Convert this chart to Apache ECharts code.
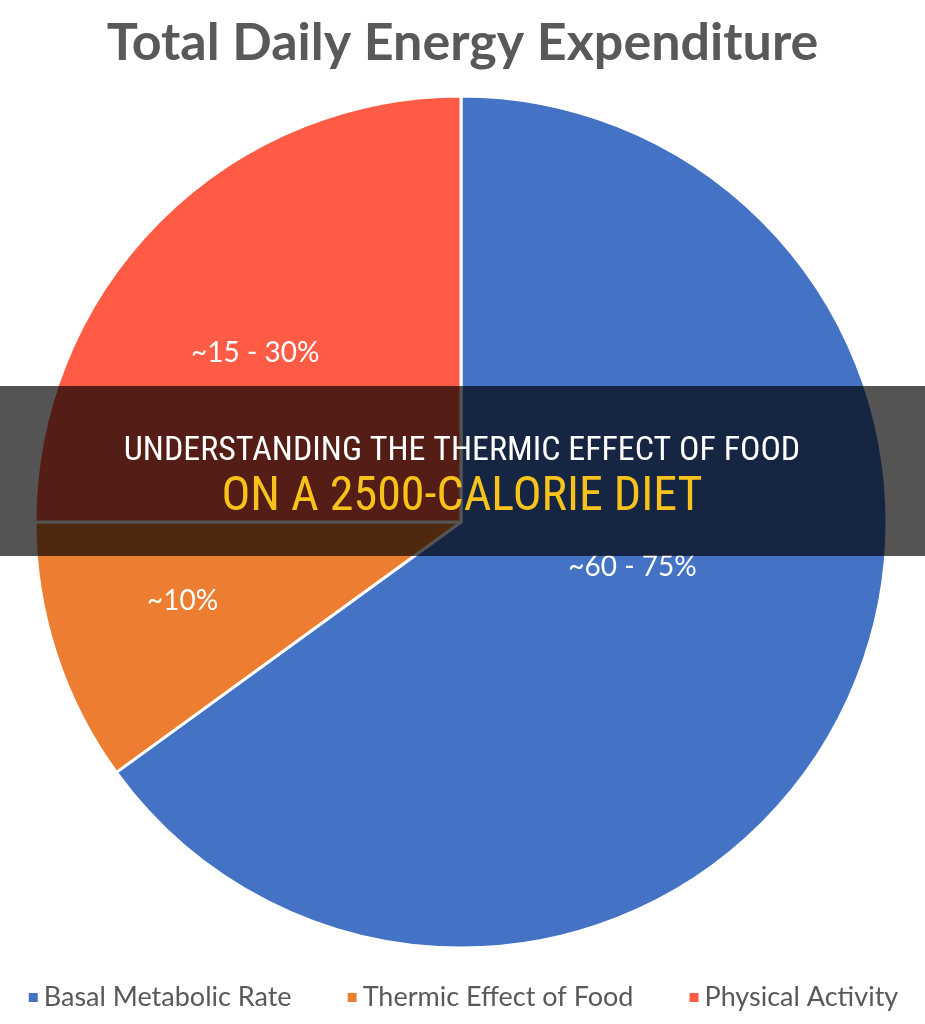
<!DOCTYPE html>
<html>
<head>
<meta charset="utf-8">
<script src="https://cdn.jsdelivr.net/npm/echarts@6/dist/echarts.min.js"></script>
<style>
  html, body { margin: 0; padding: 0; background: #fff; }
  #main { width: 925px; height: 1024px; }
</style>
</head>
<body>
<div id="main"></div>
<script>
// slices, clockwise from 12 o'clock
var categories = ['Basal Metabolic Rate', 'Thermic Effect of Food', 'Physical Activity'];
var shares = [65, 10, 25];
var sliceLabels = ['~60 - 75%', '~10%', '~15 - 30%'];
var sliceColors = ['#4472C4', '#ED7D31', '#FF5B45'];
// nudges of the labels from the default inside spot
var labelShift = [[-21, -53], [-73, 12], [-53, -16]];

var bannerLine1 = 'UNDERSTANDING THE THERMIC EFFECT OF FOOD';
var bannerLine2 = 'ON A 2500-CALORIE DIET';

var chart = echarts.init(document.getElementById('main'));

var pieData = categories.map(function (name, i) {
  return {
    name: name,
    value: shares[i],
    itemStyle: { color: sliceColors[i] },
    label: { formatter: sliceLabels[i] }
  };
});

var narrow = '"Liberation Sans Narrow", "Roboto Condensed", "DejaVu Sans Condensed", sans-serif';

chart.setOption({
  animation: false,
  title: {
    text: 'Total Daily Energy Expenditure',
    left: 'center',
    top: 12,
    textStyle: { fontFamily: 'Lato', fontWeight: 'bold', fontSize: 52, color: '#595959' }
  },
  legend: {
    bottom: 8,
    left: 'center',
    icon: 'rect',
    itemWidth: 11,
    itemHeight: 11,
    itemGap: 54,
    textStyle: { fontFamily: 'Lato', fontSize: 27, color: '#595959' },
    data: categories
  },
  series: [{
    type: 'pie',
    center: [461, 522],
    radius: [0, 426],
    startAngle: 90,
    clockwise: true,
    silent: true,
    itemStyle: { borderColor: '#ffffff', borderWidth: 3 },
    label: {
      show: true,
      position: 'inside',
      color: '#ffffff',
      fontFamily: 'Lato',
      fontSize: 28
    },
    labelLine: { show: false },
    labelLayout: function (params) {
      var s = labelShift[params.dataIndex];
      return { dx: s[0], dy: s[1] };
    },
    data: pieData
  }],
  graphic: [
    {
      type: 'rect',
      z: 100,
      shape: { x: 0, y: 386, width: 925, height: 170 },
      style: { fill: 'rgba(0,0,0,0.67)' }
    },
    {
      type: 'text',
      z: 101,
      x: 462, y: 451,
      style: {
        text: bannerLine1,
        fill: '#ffffff',
        font: '34px ' + narrow,
        align: 'center',
        verticalAlign: 'middle'
      }
    },
    {
      type: 'text',
      z: 101,
      x: 462, y: 498,
      style: {
        text: bannerLine2,
        fill: '#F7C31A',
        font: '48px ' + narrow,
        align: 'center',
        verticalAlign: 'middle'
      }
    }
  ]
});
</script>
</body>
</html>
